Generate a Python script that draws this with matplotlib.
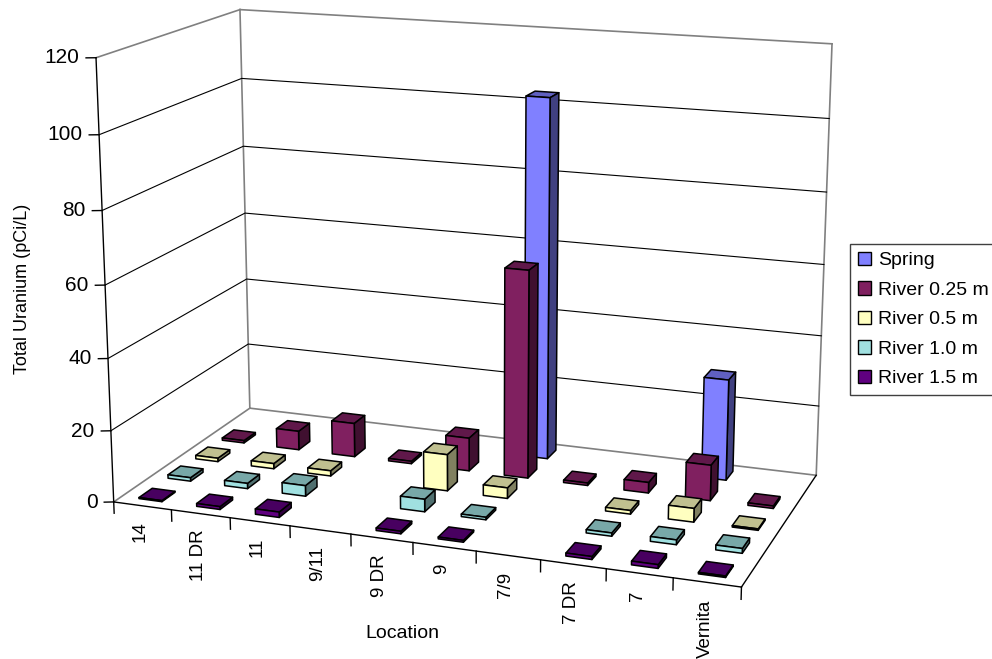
import numpy as np
import matplotlib
matplotlib.use("Agg")
import matplotlib.pyplot as plt
from matplotlib.patches import Patch
from mpl_toolkits.mplot3d.art3d import Poly3DCollection

plt.rcParams['font.family'] = ['Liberation Sans', 'DejaVu Sans']

W, H = 992, 659

locations = ['14', '11 DR', '11', '9/11', '9 DR', '9', '7/9', '7 DR', '7', 'Vernita']
series_names = ['Spring', 'River 0.25 m', 'River 0.5 m', 'River 1.0 m', 'River 1.5 m']
z_ticks = [0, 20, 40, 60, 80, 100, 120]

# nan = no sample there
spring = [np.nan, np.nan, np.nan, np.nan, np.nan, 103, np.nan, np.nan, 28.7, np.nan]
river_025 = [0.7, 5.5, 9.8, 0.7, 9.5, 59, 0.7, 3, 10, 0.7]
river_05 = [1, 1.5, 1.5, np.nan, 10.3, 3, np.nan, 1, 3.8, 0.4]
river_10 = [1, 1.5, 3, np.nan, 3.5, 0.7, np.nan, 0.9, 1.3, 1.3]
river_15 = [0.3, 0.8, 1.5, np.nan, 0.7, 0.5, np.nan, 0.8, 1, 0.4]
series_values = [spring, river_025, river_05, river_10, river_15]

# front, top, side colours of each series
front_colors = ['#8080FF', '#802060', '#FFFFC0', '#A0E0E0', '#600080']
top_colors = ['#6060C0', '#60184A', '#C0C090', '#78A8A8', '#480060']
side_colors = ['#404080', '#401030', '#808060', '#507070', '#300040']

# Camera: where the corners of the chart box land in the image (pixels)
box_xyz = [(0, 0, 0), (10, 0, 0), (10, 5, 0), (0, 5, 0), (0, 0, 120), (0, 5, 120), (10, 5, 120)]
box_px = [(113.5, 502), (741.7, 586.7), (816, 475.7), (250, 408), (96, 58), (240, 9.5), (832, 43.7)]


def fit_camera(xyz, px):
    rows = []
    for (x, y, z), (u, v) in zip(xyz, px):
        rows.append([x, y, z, 1, 0, 0, 0, 0, -u * x, -u * y, -u * z, -u])
        rows.append([0, 0, 0, 0, x, y, z, 1, -v * x, -v * y, -v * z, -v])
    _, _, vt = np.linalg.svd(np.array(rows, dtype=float))
    P = vt[-1].reshape(3, 4)
    if P[2] @ np.array([0, 0, 0, 1]) < 0:
        P = -P
    return P


P = fit_camera(box_xyz, box_px)


def to_fig(x, y, z):
    u, v, w = P @ np.array([x, y, z, 1.0])
    return u / w / W, 1 - v / w / H


fig = plt.figure(figsize=(W / 100, H / 100), dpi=100)
ax = fig.add_axes([0, 0, 1, 1], projection='3d')
ax.set_axis_off()
ax.set_proj_type('ortho')  # keeps lines from being clipped by the depth test
ax.apply_aspect = lambda position=None: None


def camera_proj():
    # pixel -> display -> 2d axes coordinates
    to_disp = np.array([[1, 0, 0], [0, -1, H], [0, 0, 1.0]])
    Q = ax.transData.inverted().get_matrix() @ to_disp @ P
    return np.array([Q[0], Q[1], [0, 1, 0, 0], Q[2]])


ax.get_proj = camera_proj

# Box edges
grey = '#808080'
for a, b in [((0, 0, 120), (0, 5, 120)), ((0, 5, 120), (10, 5, 120)), ((0, 5, 0), (0, 5, 120)),
             ((10, 5, 0), (10, 5, 120)), ((0, 0, 0), (0, 5, 0)), ((0, 5, 0), (10, 5, 0))]:
    ax.plot(*zip(a, b), color=grey, lw=1.2)
for a, b in [((0, 0, 0), (0, 0, 120)), ((0, 0, 0), (10, 0, 0)), ((10, 0, 0), (10, 5, 0))]:
    ax.plot(*zip(a, b), color='black', lw=1)

# Gridlines on both walls
for z in z_ticks[1:-1]:
    ax.plot([0, 0, 10], [0, 5, 5], [z, z, z], color='black', lw=0.8)

# Value ticks and labels
for z in z_ticks:
    ax.plot([0, -0.134], [0, -0.06], [z, z], color='black', lw=1)
    fx, fy = to_fig(-0.23, -0.10, z)
    fig.text(fx, fy, str(z), fontsize=15, ha='right', va='center')

# Location ticks and labels
for i in range(len(locations) + 1):
    ax.plot([i, i], [0, 0], [0, -3.2], color='black', lw=1)
for i, name in enumerate(locations):
    fx, fy = to_fig(i + 0.5, -0.1, -3.8)
    fig.text(fx, fy, name, fontsize=13.5, rotation=90, ha='center', va='top')

# Bars: only the three faces the camera can see
BAR_W, BAR_D = 0.4, 0.45
verts, face_colors = [], []
for s, values in enumerate(series_values):
    row = len(series_values) - 1 - s
    for i, v in enumerate(values):
        if np.isnan(v):
            continue
        x0, x1 = i + 0.3, i + 0.3 + BAR_W
        y0, y1 = row + 0.27, row + 0.27 + BAR_D
        verts.append([(x0, y0, 0), (x1, y0, 0), (x1, y0, v), (x0, y0, v)])
        verts.append([(x1, y0, 0), (x1, y1, 0), (x1, y1, v), (x1, y0, v)])
        verts.append([(x0, y0, v), (x1, y0, v), (x1, y1, v), (x0, y1, v)])
        face_colors += [front_colors[s], side_colors[s], top_colors[s]]

ax.add_collection3d(Poly3DCollection(verts, facecolors=face_colors, edgecolors='black', linewidths=1.1))

fig.text(23 / W, 1 - 289 / H, 'Total Uranium (pCi/L)', fontsize=13, rotation=90, ha='center', va='center')
fig.text(402 / W, 1 - 633 / H, 'Location', fontsize=14, ha='center', va='center')

handles = [Patch(facecolor=c, edgecolor='black', lw=1) for c in front_colors]
fig.legend(handles, series_names, loc='upper left', bbox_to_anchor=(850 / W, 1 - 244 / H),
           borderaxespad=0, fontsize=14, fancybox=False, framealpha=1, edgecolor='#404040',
           handlelength=0.68, handleheight=0.68, handletextpad=0.38, labelspacing=0.62,
           borderpad=0.4)

fig.savefig('out.png', dpi=100)
